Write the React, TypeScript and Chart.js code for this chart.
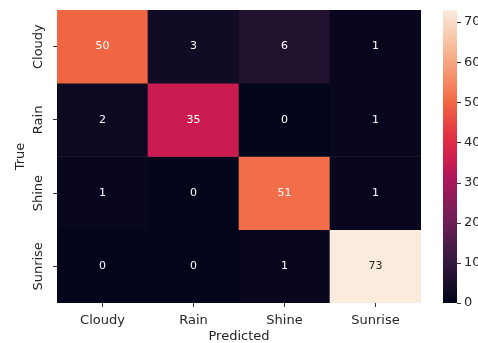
import React, { useEffect, useRef } from "react";
import { Chart, registerables } from "chart.js";

Chart.register(...registerables);

const predictedLabels = ["Cloudy", "Rain", "Shine", "Sunrise"];
const trueLabels = ["Cloudy", "Rain", "Shine", "Sunrise"];
const rowCloudy = [50, 3, 6, 1];
const rowRain = [2, 35, 0, 1];
const rowShine = [1, 0, 51, 1];
const rowSunrise = [0, 0, 1, 73];
const matrix = [rowCloudy, rowRain, rowShine, rowSunrise];
const colorbarTicks = [0, 10, 20, 30, 40, 50, 60, 70];
const vmin = 0;
const vmax = 73;

const FONT = "'DejaVu Sans', sans-serif";
const TEXT = "#262626";

// seaborn "rocket" colormap anchors
const rocketStops: [number, string][] = [
  [0, "#03051a"],
  [1 / 7, "#35193e"],
  [2 / 7, "#701f57"],
  [3 / 7, "#ad1759"],
  [0.48, "#cb1b50"],
  [4 / 7, "#e13342"],
  [0.685, "#f16642"],
  [5 / 7, "#f37651"],
  [6 / 7, "#f6b48f"],
  [1, "#faebdd"],
];

function hexToRgb(h: string) {
  const n = parseInt(h.slice(1), 16);
  return [(n >> 16) & 255, (n >> 8) & 255, n & 255];
}

function rocket(t: number): number[] {
  t = Math.max(0, Math.min(1, t));
  for (let i = 0; i < rocketStops.length - 1; i++) {
    const [p0, c0] = rocketStops[i];
    const [p1, c1] = rocketStops[i + 1];
    if (t <= p1) {
      const f = (t - p0) / (p1 - p0);
      const a = hexToRgb(c0);
      const b = hexToRgb(c1);
      return a.map((v, k) => Math.round(v + (b[k] - v) * f));
    }
  }
  return hexToRgb(rocketStops[rocketStops.length - 1][1]);
}

function rgbStr(c: number[]) {
  return `rgb(${c[0]},${c[1]},${c[2]})`;
}

function luminance(c: number[]) {
  const lin = c.map((v) => {
    const s = v / 255;
    return s <= 0.03928 ? s / 12.92 : Math.pow((s + 0.055) / 1.055, 2.4);
  });
  return 0.2126 * lin[0] + 0.7152 * lin[1] + 0.0722 * lin[2];
}

const heatPlugin = {
  id: "heatExtras",
  afterDatasetsDraw(chart: any) {
    const ctx = chart.ctx;
    ctx.save();
    ctx.font = `11px ${FONT}`;
    ctx.textAlign = "center";
    ctx.textBaseline = "middle";
    matrix.forEach((row, i) => {
      const meta = chart.getDatasetMeta(i);
      row.forEach((v, j) => {
        const el: any = meta.data[j];
        const c = rocket((v - vmin) / (vmax - vmin));
        ctx.fillStyle = luminance(c) > 0.408 ? TEXT : "#ffffff";
        ctx.fillText(String(v), el.x, (el.y + el.base) / 2);
      });
    });
    ctx.restore();
  },
  afterDraw(chart: any) {
    const ctx = chart.ctx;
    const ys = chart.scales.y;
    const cb = chart.scales.cb;
    const area = chart.chartArea;
    ctx.save();
    // y tick labels (rotated)
    ctx.font = `13px ${FONT}`;
    ctx.fillStyle = TEXT;
    ctx.textAlign = "center";
    ctx.textBaseline = "middle";
    trueLabels.forEach((lab, i) => {
      const y = ys.getPixelForValue(i);
      ctx.save();
      ctx.translate(ys.right - 18.5, y);
      ctx.rotate(-Math.PI / 2);
      ctx.fillText(lab, 0, 0);
      ctx.restore();
    });
    // colorbar
    const x0 = area.right + 22;
    const w = 14;
    const yb = cb.getPixelForValue(vmin);
    const yt = cb.getPixelForValue(vmax);
    const grad = ctx.createLinearGradient(0, yb, 0, yt);
    for (let k = 0; k <= 64; k++) {
      grad.addColorStop(k / 64, rgbStr(rocket(k / 64)));
    }
    ctx.fillStyle = grad;
    ctx.fillRect(x0, yt, w, yb - yt);
    ctx.strokeStyle = "#333333";
    ctx.lineWidth = 1;
    ctx.font = `13px ${FONT}`;
    ctx.fillStyle = TEXT;
    ctx.textAlign = "left";
    ctx.textBaseline = "middle";
    cb.ticks.forEach((t: any) => {
      const yp = cb.getPixelForValue(t.value);
      const y = Math.round(yp) + 0.5;
      ctx.beginPath();
      ctx.moveTo(x0 + w, y);
      ctx.lineTo(x0 + w + 4, y);
      ctx.stroke();
      ctx.fillText(String(t.value), x0 + w + 7, yp);
    });
    ctx.restore();
  },
};

export default function App() {
  const ref = useRef<HTMLCanvasElement | null>(null);
  useEffect(() => {
    if (!ref.current) return;
    const datasets = matrix.map((row, i) => ({
      label: trueLabels[i],
      data: row.map(() => [i - 0.5, i + 0.5]),
      backgroundColor: row.map((v) => rgbStr(rocket((v - vmin) / (vmax - vmin)))),
      borderWidth: 0,
      barPercentage: 1,
      categoryPercentage: 1,
      grouped: false,
    }));
    const chart = new Chart(ref.current, {
      type: "bar",
      data: { labels: predictedLabels, datasets: datasets as any },
      plugins: [heatPlugin],
      options: {
        animation: false,
        responsive: false,
        maintainAspectRatio: false,
        layout: { padding: { top: 10, left: 0, right: 0, bottom: 0 } },
        plugins: { legend: { display: false }, tooltip: { enabled: false } },
        scales: {
          x: {
            type: "category",
            offset: true,
            border: { display: false },
            grid: {
              offset: false,
              drawOnChartArea: false,
              drawTicks: true,
              tickLength: 4,
              tickColor: "#333333",
            },
            ticks: {
              color: TEXT,
              font: { family: FONT, size: 13 },
              padding: 6,
              maxRotation: 0,
              minRotation: 0,
            },
            title: {
              display: true,
              text: "Predicted",
              color: TEXT,
              font: { family: FONT, size: 13, lineHeight: 1 },
              padding: { top: 0, bottom: 0 },
            },
            afterFit: (s: any) => {
              s.height = 40;
              s.paddingLeft = 0;
              s.paddingRight = 0;
            },
          } as any,
          y: {
            type: "linear",
            min: -0.5,
            max: 3.5,
            reverse: true,
            border: { display: false },
            grid: {
              drawOnChartArea: false,
              drawTicks: true,
              tickLength: 4,
              tickColor: "#333333",
            },
            ticks: { display: false },
            afterBuildTicks: (s: any) => {
              s.ticks = trueLabels.map((_, i) => ({ value: i }));
            },
            title: {
              display: true,
              text: "True",
              color: TEXT,
              font: { family: FONT, size: 13, lineHeight: 1 },
              padding: { top: 14, bottom: 0 },
            },
            afterFit: (s: any) => {
              s.width = 57;
              s.paddingTop = 0;
              s.paddingBottom = 0;
            },
          } as any,
          cb: {
            type: "linear",
            position: "right",
            min: vmin,
            max: vmax,
            border: { display: false },
            grid: { display: false, drawTicks: false, drawOnChartArea: false },
            afterBuildTicks: (s: any) => {
              s.ticks = colorbarTicks.map((v) => ({ value: v }));
            },
            ticks: { display: false, includeBounds: false },
            afterFit: (s: any) => {
              s.width = 79;
              s.paddingTop = 0;
              s.paddingBottom = 0;
            },
          } as any,
        },
      },
    });
    return () => chart.destroy();
  }, []);
  return (
    <div
      style={{
        position: "fixed",
        left: 0,
        top: 0,
        width: 478,
        height: 343,
        overflow: "hidden",
        background: "#ffffff",
      }}
    >
      <canvas ref={ref} width={500} height={343} style={{ width: 500, height: 343, display: "block" }} />
    </div>
  );
}
